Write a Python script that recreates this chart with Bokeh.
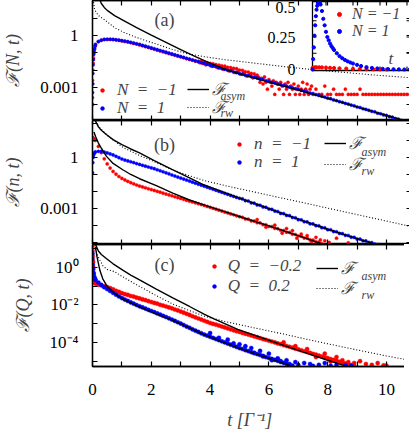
import numpy as np
from bokeh.plotting import figure
from bokeh.layouts import column
from bokeh.models import (FixedTicker, Range1d, LogAxis, LinearAxis, Label,
                          Legend, LegendItem, LinearScale)
from bokeh.core.properties import value
from bokeh.embed import file_html
from bokeh.resources import INLINE

# ======================= data (log10 of F) =======================
X_MAJOR = [0, 2, 4, 6, 8, 10]
X_MINOR = [1, 3, 5, 7, 9]

# ---- panel (a)  N = -1 / N = 1
a_blue_t0 = [0.0, 0.0, 0.01, 0.01, 0.02, 0.03, 0.04, 0.05, 0.07, 0.09]
a_blue_L0 = [-4.0, -3.3, -2.8, -2.2, -1.7, -1.4, -1.1, -0.9, -0.75, -0.6]
a_blue_L = [-0.52, -0.35, -0.27, -0.23, -0.22, -0.22, -0.23, -0.25, -0.27, -0.30,
            -0.33, -0.36, -0.40, -0.44, -0.48, -0.52, -0.57, -0.62, -0.67, -0.72,
            -0.77, -0.82, -0.87, -0.92, -0.97, -1.02, -1.07, -1.12, -1.17, -1.22,
            -1.27, -1.32, -1.37, -1.42, -1.47, -1.52, -1.57, -1.62, -1.67,
            -1.73, -1.78, -1.81, -1.88, -1.92, -1.96, -2.02, -2.05, -2.12, -2.15,
            -2.21, -2.24, -2.30, -2.33, -2.38, -2.43, -2.46, -2.53, -2.55, -2.62,
            -2.66, -2.71, -2.75, -2.81, -2.84, -2.90, -2.93, -2.99, -3.03, -3.08,
            -3.12, -3.18, -3.22, -3.27, -3.33, -3.36, -3.42, -3.47, -3.52, -3.56,
            -3.63, -3.66, -3.73, -3.77, -3.83, -3.87, -3.93, -3.97, -4.03, -4.07,
            -4.14, -4.17, -4.24, -4.28, -4.33, -4.39, -4.42, -4.50, -4.53, -4.60,
            -4.63, -4.70, -4.73, -4.81, -4.84, -4.92, -4.97]          # t = 0.1 ... step 0.1
a_red_t0 = [0.0, 0.0, 0.01, 0.02, 0.03, 0.05, 0.07, 0.09]
a_red_L0 = [-3.6, -2.6, -2.0, -1.6, -1.3, -1.0, -0.8, -0.62]
a_red_L1 = [-0.55, -0.36, -0.28, -0.24, -0.23, -0.23, -0.24, -0.26, -0.29, -0.32,
            -0.35, -0.38, -0.42, -0.46, -0.50, -0.55, -0.60, -0.65, -0.70, -0.75,
            -0.80, -0.85, -0.90, -0.95, -1.00, -1.05, -1.10, -1.14, -1.20, -1.24,
            -1.29, -1.35, -1.39, -1.43, -1.49]                         # t = 0.1 ... step 0.1
a_red_L2 = [-1.50, -1.58, -1.49, -1.62, -1.55, -1.70, -1.58, -1.66, -1.62, -1.78,
            -1.64, -1.75, -1.69, -1.86, -1.72, -1.80, -1.76, -1.95, -1.78, -1.90,
            -1.84, -2.05, -1.86, -1.98, -1.90, -2.14, -1.92, -2.08, -2.00, -2.25,
            -2.02, -2.16, -2.10, -2.35, -2.12, -2.27, -2.20, -2.45, -2.22, -2.38,
            -2.30, -2.42, -2.71, -2.48, -2.81, -2.40, -2.71, -3.11, -2.55, -2.71,
            -2.93, -2.62, -3.41, -2.71, -2.81, -3.11, -2.71, -2.93, -3.41, -2.81,
            -3.11, -2.71, -3.41, -2.93, -3.11, -2.81, -3.41, -3.11, -2.93, -3.41,
            -3.11, -2.71, -3.41, -3.11, -2.81, -3.41, -3.11, -2.93, -3.41]   # t = 3.6 ... step 0.05
a_red_L3 = [-3.11, -3.41, -3.41, -2.93, -3.41, -3.41, -3.11, -3.41, -3.41, -3.41,
            -3.11, -3.41, -3.41, -3.41, -3.41, -3.11, -3.41, -3.41, -3.41, -3.41,
            -3.41, -3.41, -3.41, -3.41, -3.41, -3.41, -3.41, -3.41, -3.41, -3.41,
            -3.41, -3.41, -3.41]                                        # t = 7.6 ... step 0.1
a_asym_t = [0.2, 0.3, 0.4, 0.5, 0.75, 1.0, 1.25, 1.5, 2.0, 2.5, 3.0, 3.5, 4.0, 4.5, 5.0,
            6.0, 7.0, 8.0, 9.0, 10.0, 10.85]
a_asym_L = [2.3, 1.85, 1.62, 1.45, 1.15, 0.92, 0.68, 0.45, 0.02, -0.4, -0.82, -1.22, -1.6,
            -1.95, -2.22, -2.70, -3.16, -3.64, -4.13, -4.62, -5.05]
a_rw_t = [0.02, 0.07, 0.2, 0.4, 0.75, 1.1, 1.5, 2.1, 2.7, 3.2, 3.8, 4.5, 5.5, 6.5, 7.5,
          8.5, 9.5, 10.85]
a_rw_L = [2.1, 1.5, 1.15, 0.92, 0.45, 0.15, -0.12, -0.46, -0.80, -1.05, -1.23, -1.40,
          -1.60, -1.80, -1.98, -2.13, -2.28, -2.45]

# ---- inset of panel (a), linear F
in_blue_t = [0.0, 0.05, 0.1, 0.15, 0.2, 0.25, 0.3, 0.35, 0.4, 0.45, 0.5, 0.55, 0.6, 0.7,
             0.8, 0.9, 1.0, 1.1, 1.2, 1.3, 1.4, 1.5, 1.6, 1.8, 2.0, 2.2, 2.4, 2.6, 2.8,
             3.0, 3.3, 3.6, 4.0, 4.4, 4.8, 5.2, 5.6, 6.0, 6.4, 6.8, 7.2]
in_blue_F = [0.0, 0.08, 0.17, 0.26, 0.34, 0.41, 0.46, 0.49, 0.51, 0.52, 0.52, 0.51, 0.50,
             0.45, 0.39, 0.34, 0.29, 0.25, 0.225, 0.20, 0.18, 0.165, 0.15, 0.125, 0.103,
             0.087, 0.074, 0.063, 0.054, 0.046, 0.036, 0.027, 0.018, 0.012, 0.008, 0.005,
             0.003, 0.002, 0.001, 0.0, 0.0]
in_red_t = [0.0, 0.1, 0.2, 0.3, 0.5, 0.7, 1.0, 1.3, 1.6, 2.0, 2.5, 3.0, 3.5, 4.0, 4.5,
            5.0, 5.5]
in_red_F = [0.012, 0.015, 0.016, 0.017, 0.017, 0.016, 0.015, 0.013, 0.011, 0.009, 0.007,
            0.005, 0.004, 0.003, 0.002, 0.001, 0.0]
in_xticks = [1, 3, 5, 7]
in_yticks = [0.125, 0.25, 0.375]
in_ylabels = [0.0, 0.25, 0.5]
in_ylabel_text = ["0", "0.25", "0.5"]

# ---- panel (b)  n = -1 / n = 1
b_blue_t0 = [0.0, 0.01, 0.02, 0.03, 0.05, 0.07]
b_blue_L0 = [-0.9, -0.3, 0.0, 0.12, 0.22, 0.28]
b_blue_L = [0.33, 0.36, 0.36, 0.32, 0.27, 0.21, 0.15, 0.07, -0.01, -0.09,
            -0.15, -0.20, -0.25, -0.30, -0.36, -0.41, -0.46, -0.51, -0.56, -0.61,
            -0.66, -0.72, -0.78, -0.84, -0.90, -0.96, -1.03, -1.09, -1.15, -1.21,
            -1.27, -1.33, -1.39, -1.45, -1.51, -1.57, -1.63, -1.69, -1.75, -1.81,
            -1.87, -1.93, -1.99, -2.05, -2.11, -2.17, -2.23, -2.29, -2.35, -2.40,
            -2.44, -2.54, -2.56, -2.67, -2.69, -2.79, -2.81, -2.91, -2.93, -3.03,
            -3.05, -3.15, -3.18, -3.29, -3.30, -3.41, -3.42, -3.53, -3.55, -3.66,
            -3.67, -3.78, -3.79, -3.90, -3.91, -4.01, -4.02, -4.13, -4.14, -4.25,
            -4.25, -4.36, -4.37, -4.47, -4.48, -4.58, -4.59, -4.69, -4.70, -4.80,
            -4.80, -4.90, -4.91, -5.00, -5.01, -5.10, -5.12]            # t = 0.1 ... step 0.1
b_red_t0 = [0.0, 0.01, 0.02, 0.04, 0.06, 0.08]
b_red_L0 = [1.18, 1.16, 1.13, 1.09, 1.05, 1.02]
b_red_L = [1.0, 0.65, 0.28, -0.08, -0.38, -0.62, -0.82, -0.98, -1.12, -1.23,
           -1.32, -1.40, -1.48, -1.55, -1.62, -1.68, -1.73, -1.78, -1.84, -1.89,
           -1.94, -1.99, -2.04, -2.10, -2.15, -2.20, -2.25, -2.31, -2.36, -2.41,
           -2.46, -2.52, -2.57, -2.62, -2.67, -2.72, -2.77, -2.82, -2.88, -2.93,
           -2.99, -3.04, -3.10, -3.15, -3.21, -3.26, -3.32, -3.37, -3.43, -3.48,
           -3.52, -3.62, -3.63, -3.73, -3.74, -3.84, -3.85, -3.95, -3.96, -4.06,
           -4.07, -4.17, -4.19, -4.28, -4.30, -4.40, -4.41, -4.51, -4.53, -4.62,
           -4.64, -4.74, -4.75, -4.85, -4.86, -4.96, -4.98, -5.07]       # t = 0.1 ... step 0.1
b_red_nt = [5.6, 5.9, 6.2, 6.45, 6.6, 6.8, 6.95, 7.1, 7.3, 7.45, 7.6, 7.75, 7.9, 8.05,
            8.3, 8.7]
b_red_nL = [-3.65, -4.10, -3.98, -4.45, -4.18, -4.30, -4.75, -4.50, -4.60, -4.95, -4.70,
            -4.85, -4.90, -5.00, -4.75, -5.02]
b_asym1_t = [0.1, 0.2, 0.3, 0.47, 0.7, 1.0, 1.3, 1.6, 2.1, 2.7, 3.3, 3.8, 4.5, 5.0, 6.0,
             7.0, 8.0, 9.0, 9.8]
b_asym1_L = [2.15, 1.8, 1.6, 1.35, 1.05, 0.76, 0.5, 0.27, -0.18, -0.7, -1.2, -1.62, -2.07,
             -2.39, -3.01, -3.63, -4.22, -4.77, -5.2]
b_asym2_t = [0.05, 0.1, 0.2, 0.3, 0.47, 0.7, 1.03, 1.3, 1.6, 2.17, 2.73, 3.3, 3.81, 4.94,
             6.08, 7.2, 7.85]
b_asym2_L = [1.5, 1.25, 0.85, 0.55, 0.08, -0.35, -0.72, -1.0, -1.25, -1.66, -2.1, -2.5,
             -2.8, -3.44, -4.07, -4.71, -5.12]
b_rw_t = [0.05, 0.1, 0.25, 0.5, 1.03, 1.6, 2.17, 2.7, 3.3, 3.81, 4.5, 5.5, 6.5, 7.2, 8.0,
          9.0, 10.0, 10.85]
b_rw_L = [2.4, 2.1, 1.75, 1.3, 0.6, 0.12, -0.3, -0.72, -1.08, -1.36, -1.65, -2.03, -2.41,
          -2.67, -2.98, -3.36, -3.74, -4.07]

# ---- panel (c)  Q = -0.2 / Q = 0.2
c_red_t0 = [0.0, 0.0, 0.01, 0.02, 0.03, 0.04, 0.05, 0.06, 0.08]
c_red_L0 = [1.15, 0.9, 0.6, 0.3, 0.0, -0.3, -0.55, -0.72, -0.82]
c_red_L = [-0.86, -0.92, -0.95, -1.00, -1.04, -1.10, -1.16, -1.24, -1.30, -1.37,
           -1.42, -1.46, -1.52, -1.55, -1.61, -1.65, -1.70, -1.74, -1.79, -1.84,
           -1.89, -1.93, -1.99, -2.03, -2.08, -2.13, -2.18, -2.24, -2.29, -2.35,
           -2.41, -2.47, -2.53, -2.60, -2.66, -2.72, -2.78, -2.84, -2.90, -2.96,
           -3.01, -3.05, -3.10, -3.15, -3.20, -3.25, -3.30, -3.35, -3.40, -3.44,
           -3.49, -3.54, -3.58, -3.63, -3.68, -3.72, -3.77, -3.82, -3.86, -3.91,
           -3.95, -4.00, -4.05, -4.09, -4.14, -4.19, -4.23, -4.28, -4.33, -4.37,
           -4.42, -4.47, -4.51, -4.56, -4.61, -4.65, -4.70, -4.75, -4.79, -4.84,
           -4.89, -4.93, -4.98, -5.03, -5.07, -5.12, -5.17, -5.21, -5.26]   # t = 0.1 ... step 0.1
c_red_nt = [6.5, 6.9, 7.3, 7.6, 7.9, 8.1, 8.3, 8.5, 8.7, 8.9, 9.1, 9.3, 9.5, 9.7, 9.9, 10.0]
c_red_nL = [-4.00, -4.20, -4.35, -4.78, -4.60, -5.02, -4.78, -4.95, -5.05, -5.10, -5.00,
            -5.15, -5.20, -5.10, -5.22, -5.24]
c_blue_t0 = [0.0, 0.0, 0.01, 0.02, 0.03, 0.05, 0.07, 0.09]
c_blue_L0 = [0.75, 0.45, 0.15, -0.1, -0.3, -0.45, -0.55, -0.62]
c_blue_L = [-0.66, -0.80, -0.93, -1.05, -1.15, -1.25, -1.35, -1.45, -1.54, -1.63,
            -1.71, -1.78, -1.86, -1.93, -2.00, -2.07, -2.13, -2.19, -2.26, -2.32,
            -2.38, -2.45, -2.51, -2.58, -2.64, -2.71, -2.78, -2.85, -2.92, -2.99,
            -3.07, -3.15, -3.22, -3.30, -3.37, -3.44, -3.51, -3.58, -3.64, -3.70,
            -3.76, -3.82, -3.88, -3.94, -4.00, -4.06, -4.12, -4.18, -4.24, -4.30,
            -4.35, -4.41, -4.46, -4.52, -4.57, -4.62, -4.67, -4.72, -4.78, -4.83,
            -4.88, -4.93, -4.98, -5.04, -5.09, -5.14, -5.19, -5.24]      # t = 0.1 ... step 0.1
c_blue_nt = [4.0, 4.3, 4.6, 4.8, 5.0, 5.2, 5.4, 5.5, 5.7, 5.8, 6.0, 6.1, 6.3, 6.4, 6.6,
             6.7, 6.9, 7.0, 7.2, 7.4, 7.5, 7.7, 7.9, 8.1, 8.3, 8.6, 8.8]
c_blue_nL = [-3.50, -3.75, -3.85, -4.05, -4.10, -4.20, -4.30, -4.55, -4.45, -4.75, -4.60,
             -4.95, -4.85, -5.00, -4.95, -5.15, -5.05, -5.20, -5.10, -5.15, -5.25, -5.20,
             -5.10, -5.25, -5.20, -5.22, -5.25]
c_asym1_t = [0.1, 0.2, 0.3, 0.47, 0.7, 1.03, 1.3, 1.6, 2.17, 2.73, 3.3, 3.81, 4.15, 4.94,
             6.08, 7.2, 8.0, 8.7]
c_asym1_L = [1.25, 0.88, 0.7, 0.48, 0.2, -0.14, -0.4, -0.66, -1.15, -1.62, -2.08, -2.5,
             -2.75, -3.3, -3.93, -4.53, -4.95, -5.3]
c_asym2_t = [0.1, 0.15, 0.25, 0.35, 0.5, 0.75, 1.03, 1.6, 2.17, 2.73, 3.3, 3.81, 4.5, 5.0,
             6.0, 6.8]
c_asym2_L = [1.1, 0.6, -0.15, -0.6, -1.0, -1.38, -1.68, -2.1, -2.47, -2.82, -3.22, -3.6,
             -4.02, -4.32, -4.85, -5.28]
c_rw_t = [0.1, 0.2, 0.35, 0.5, 0.75, 1.03, 1.5, 2.17, 2.73, 3.3, 3.81, 4.5, 5.5, 6.5, 7.2,
          8.0, 9.0, 10.0, 10.85]
c_rw_L = [1.0, 0.55, 0.1, -0.1, -0.22, -0.5, -0.92, -1.5, -1.95, -2.3, -2.6, -2.88, -3.22,
          -3.55, -3.8, -4.07, -4.4, -4.72, -4.97]

# ======================= styling / layout =======================
FONT = "Liberation Serif"
RED = "#ff0000"
BLUE = "#0000ff"
FW = 319
X_RANGE = (0, 10.85)
ROW = 20


def seq(start, n, step=0.1):
    return [round(start + i * step, 3) for i in range(n)]


def F(L):
    return [10.0 ** v for v in L]


def make_panel(ylim, fh, y_major, y_minor, y_major_text, ylabel, bottom_labels):
    p = figure(frame_width=FW, frame_height=fh, x_range=Range1d(*X_RANGE),
               y_range=Range1d(*ylim), y_axis_type="log", output_backend="svg",
               toolbar_location=None, min_border_left=80, min_border_right=2,
               min_border_top=0, min_border_bottom=0)
    p.grid.visible = False
    p.outline_line_color = "black"
    p.outline_line_width = 1.3
    top = LinearAxis()
    right = LogAxis()
    p.add_layout(top, "above")
    p.add_layout(right, "right")
    bottom = p.below[0]
    left = p.left[0]
    xt = FixedTicker(ticks=X_MAJOR, minor_ticks=X_MINOR)
    yt = FixedTicker(ticks=y_major, minor_ticks=y_minor)
    for ax in (bottom, top):
        ax.ticker = xt
    for ax in (left, right):
        ax.ticker = yt
    for ax in (bottom, top, left, right):
        ax.major_tick_in = 5
        ax.major_tick_out = 0
        ax.minor_tick_in = 5
        ax.minor_tick_out = 0
        ax.axis_line_width = 1.3
        ax.major_tick_line_width = 1.2
        ax.minor_tick_line_width = 1.2
        ax.major_label_text_font = FONT
        ax.major_label_text_font_size = "17px"
        ax.major_label_text_color = "black"
    hidden = [top, right] + ([] if bottom_labels else [bottom])
    for ax in hidden:
        ax.major_label_text_font_size = "1px"
        ax.major_label_text_alpha = 0
        ax.major_label_standoff = 0
    left.major_label_overrides = {v: s for v, s in zip(y_major, y_major_text)}
    left.major_label_standoff = 14
    left.axis_label = ylabel
    left.axis_label_text_font = FONT
    left.axis_label_text_font_style = "italic"
    left.axis_label_text_font_size = "18px"
    left.axis_label_standoff = 14
    if bottom_labels:
        bottom.major_label_standoff = 17
        bottom.axis_label = "t  [Γ⁻¹]"
        bottom.axis_label_text_font = FONT
        bottom.axis_label_text_font_style = "italic"
        bottom.axis_label_text_font_size = "18px"
        bottom.axis_label_standoff = 12
    return p


def legend1(p, label, r, loc, glyph_w, standoff, size="17px"):
    """one-entry legend placed at loc (frame pixels from bottom-left)"""
    lg = Legend(items=[LegendItem(label=label, renderers=[r])],
                location=loc, orientation="vertical", padding=0, margin=0, spacing=0,
                glyph_width=glyph_w, glyph_height=ROW, label_height=ROW,
                label_standoff=standoff, background_fill_alpha=0, border_line_alpha=0,
                label_text_font=FONT, label_text_font_style="italic",
                label_text_font_size=size)
    p.add_layout(lg)


def add_text(p, x, y, txt, size="18px", style="normal", align="center", **kw):
    p.add_layout(Label(x=x, y=y, text=txt, text_font=FONT, text_font_size=size,
                       text_font_style=style, text_align=align, text_baseline="middle", **kw))


def dots(p, t, L, color, size=3.2):
    return p.scatter(t, F(L), size=size, marker="circle", fill_color=color,
                     line_color=color, line_width=0.4)


def lines(p, t, L, dashed=False):
    if dashed:
        return p.line(t, F(L), line_color="black", line_width=1.1, line_dash="1 2")
    return p.line(t, F(L), line_color="black", line_width=1.4)


EN = "\u2002"

# ---------------- panel (a) ----------------
pa = make_panel((1.2e-5, 105), 120, [1, 0.001], [1e-5, 1e-4, 1e-2, 1e-1, 10, 100],
                ["1", "0.001"], "ℱ(N, t)", False)
ra = dots(pa, a_red_t0 + seq(0.1, len(a_red_L1)) + seq(3.6, len(a_red_L2), 0.05)
          + seq(7.6, len(a_red_L3)), a_red_L0 + a_red_L1 + a_red_L2 + a_red_L3, RED)
ba = dots(pa, a_blue_t0 + seq(0.1, len(a_blue_L)), a_blue_L0 + a_blue_L, BLUE)
la = lines(pa, a_asym_t, a_asym_L)
da = lines(pa, a_rw_t, a_rw_L, dashed=True)
legend1(pa, "N" + EN + "=" + EN + "−1", ra, (5, 20), 10, 10)
legend1(pa, "N" + EN + "=" + EN + "1", ba, (5, 2), 10, 10)
legend1(pa, "ℱ", la, (95, 20), 22, 3)
legend1(pa, "ℱ", da, (95, 2), 22, 3)
add_text(pa, 4.35, 10 ** -3.5, "asym", size="12px", style="italic", align="left")
add_text(pa, 4.35, 10 ** -4.5, "rw", size="12px", style="italic", align="left")
add_text(pa, 2.45, 10 ** 0.92, "(a)")

# inset of panel (a): its own linear scales mapped onto the upper right of the frame
IN_T_MAX = 7.26
IN_PX_L, IN_PX_R = 220, 318          # frame px of inset t = 0 and t = IN_T_MAX
IN_PX_0, IN_PX_HALF = 51, 116        # frame px (from bottom) of inset F = 0 and F = 0.5
sx = IN_T_MAX / (IN_PX_R - IN_PX_L)
sy = 0.5 / (IN_PX_HALF - IN_PX_0)
pa.extra_x_ranges = {"ix": Range1d(-IN_PX_L * sx, (FW - IN_PX_L) * sx)}
pa.extra_y_ranges = {"iy": Range1d(-IN_PX_0 * sy, (120 - IN_PX_0) * sy)}
pa.extra_x_scales = {"ix": LinearScale()}
pa.extra_y_scales = {"iy": LinearScale()}
ik = dict(x_range_name="ix", y_range_name="iy")
pa.quad(left=0, right=IN_T_MAX, bottom=-1 * sy, top=0.5 + 3 * sy, fill_color="white",
        line_color="black", line_width=1.3, **ik)
tl_x, tl_y = 4 * sx, 4 * sy
pa.segment(x0=in_xticks, x1=in_xticks, y0=[-sy] * 4, y1=[-sy + tl_y] * 4,
           line_color="black", line_width=1.1, **ik)
pa.segment(x0=in_xticks, x1=in_xticks, y0=[0.5 + 3 * sy] * 4, y1=[0.5 + 3 * sy - tl_y] * 4,
           line_color="black", line_width=1.1, **ik)
pa.segment(x0=[0] * 3, x1=[tl_x] * 3, y0=in_yticks, y1=in_yticks,
           line_color="black", line_width=1.1, **ik)
pa.segment(x0=[IN_T_MAX] * 3, x1=[IN_T_MAX - tl_x] * 3, y0=in_yticks, y1=in_yticks,
           line_color="black", line_width=1.1, **ik)
pa.text(x=[0] * 3, y=in_ylabels, text=in_ylabel_text, x_offset=-17, y_offset=[0, 0, 3],
        text_align="right", text_baseline="middle", text_font=value(FONT),
        text_font_size="16px", text_color="black", **ik)
ri = pa.scatter(in_red_t, in_red_F, size=3.2, fill_color=RED, line_color=RED, **ik)
bi = pa.scatter(in_blue_t, in_blue_F, size=3.2, fill_color=BLUE, line_color=BLUE, **ik)
legend1(pa, "N = −1", ri, (242, 96), 10, 8, size="16px")
legend1(pa, "N = 1", bi, (242, 79), 10, 8, size="16px")
add_text(pa, 5.8, 0.085, "t", size="17px", style="italic", **ik)

# ---------------- panel (b) ----------------
pb = make_panel((7.6e-6, 150), 124, [1, 0.001], [1e-5, 1e-4, 1e-2, 1e-1, 10, 100],
                ["1", "0.001"], "ℱ(n, t)", False)
rb = dots(pb, b_red_t0 + seq(0.1, len(b_red_L)) + b_red_nt, b_red_L0 + b_red_L + b_red_nL, RED)
bb = dots(pb, b_blue_t0 + seq(0.1, len(b_blue_L)), b_blue_L0 + b_blue_L, BLUE)
lb = lines(pb, b_asym1_t, b_asym1_L)
lines(pb, b_asym2_t, b_asym2_L)
db = lines(pb, b_rw_t, b_rw_L, dashed=True)
legend1(pb, "n" + EN + "=" + EN + "−1", rb, (142, 90), 10, 10)
legend1(pb, "n" + EN + "=" + EN + "1", bb, (142, 72), 10, 10)
legend1(pb, "ℱ", lb, (232, 90), 22, 3)
legend1(pb, "ℱ", db, (232, 69), 22, 3)
add_text(pb, 9.15, 10 ** 0.35, "asym", size="12px", style="italic", align="left")
add_text(pb, 9.15, 10 ** -0.82, "rw", size="12px", style="italic", align="left")
add_text(pb, 2.45, 10 ** 0.76, "(b)")

# ---------------- panel (c) ----------------
pc = make_panel((5.2e-6, 17), 122, [1, 1e-2, 1e-4], [10, 1e-1, 1e-3, 1e-5],
                ["10⁰", "10⁻²", "10⁻⁴"], "ℱ(Q, t)", True)
rc = dots(pc, c_red_t0 + seq(0.1, len(c_red_L)) + c_red_nt, c_red_L0 + c_red_L + c_red_nL,
          RED, size=4.2)
bc = dots(pc, c_blue_t0 + seq(0.1, len(c_blue_L)) + c_blue_nt,
          c_blue_L0 + c_blue_L + c_blue_nL, BLUE, size=4.2)
lc = lines(pc, c_asym1_t, c_asym1_L)
lines(pc, c_asym2_t, c_asym2_L)
dc = lines(pc, c_rw_t, c_rw_L, dashed=True)
legend1(pc, "Q" + EN + "=" + EN + "−0.2", rc, (125, 90), 10, 9)
legend1(pc, "Q" + EN + "=" + EN + "0.2", bc, (125, 70), 10, 9)
legend1(pc, "ℱ", lc, (232, 87), 22, 3)
legend1(pc, "ℱ", dc, (232, 67), 22, 3)
add_text(pc, 9.15, 10 ** -0.43, "asym", size="12px", style="italic", align="left")
add_text(pc, 9.15, 10 ** -1.49, "rw", size="12px", style="italic", align="left")
add_text(pc, 2.45, 10 ** 0.16, "(c)")

layout = column(pa, pb, pc, spacing=0)
open("out.html", "w").write(file_html(layout, INLINE))
